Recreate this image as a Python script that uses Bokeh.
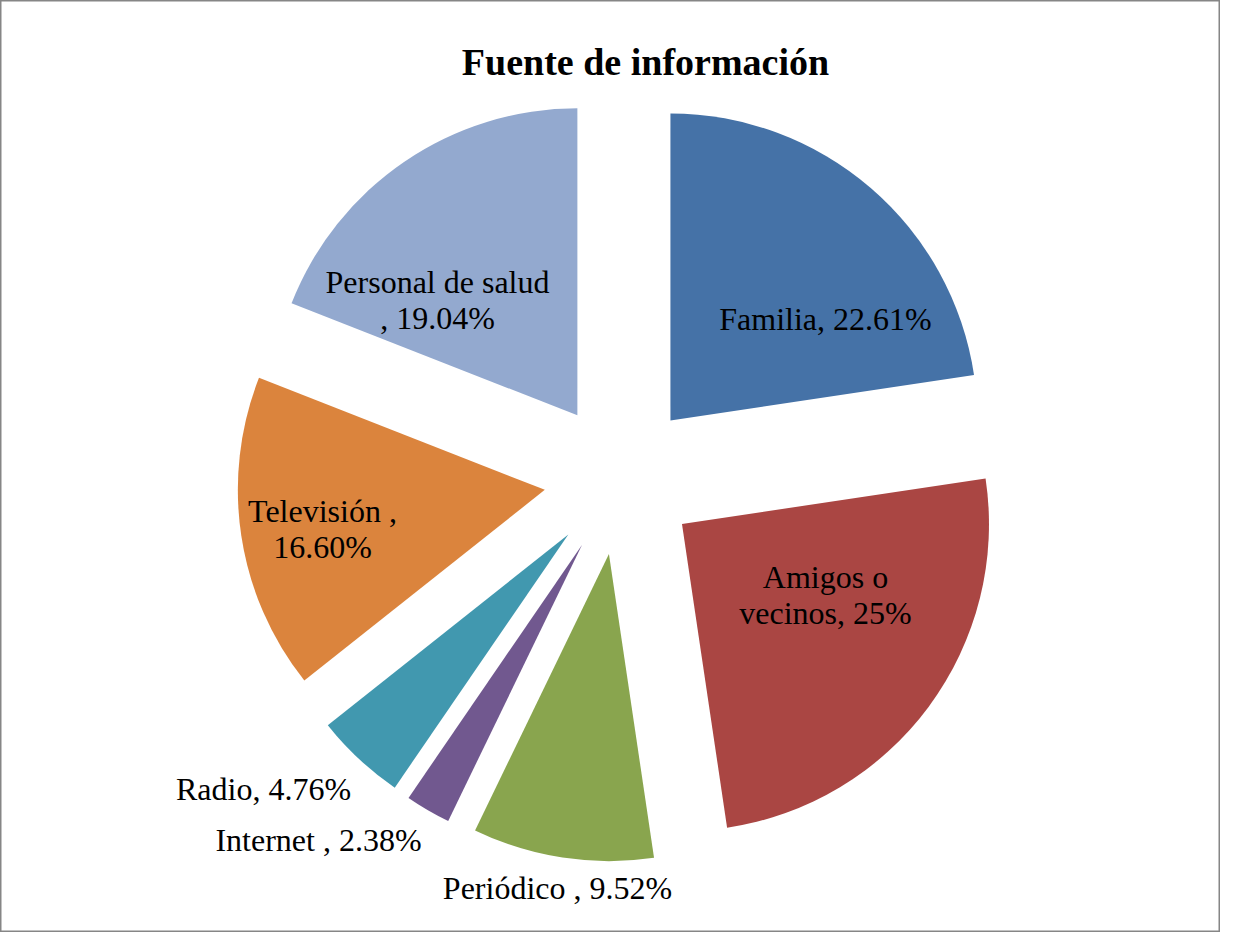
import numpy as np
from bokeh.plotting import figure
from bokeh.models import Range1d, Label, ColumnDataSource
from bokeh.embed import file_html
from bokeh.resources import INLINE
from bokeh.core.properties import value

# ---- data ----
categories = ["Familia", "Amigos o vecinos", "Periódico", "Internet", "Radio",
              "Televisión", "Personal de salud"]
percent = [22.61, 25.0, 9.52, 2.38, 4.76, 16.60, 19.04]
label_texts = ["Familia, 22.61%", "Amigos o\nvecinos, 25%", "Periódico , 9.52%",
               "Internet , 2.38%", "Radio, 4.76%", "Televisión ,\n16.60%",
               "Personal de salud\n, 19.04%"]
colors = ["#4572A7", "#AA4643", "#89A54E", "#71588F", "#4198AF", "#DB843D", "#93A9CF"]
title_text = "Fuente de información"

# ---- layout (image pixel coordinates, y measured upward from bottom 948) ----
W, H = 1220, 932
cx, cy = 620.0, 948 - 478.0
radius = 307.0
explode = 76.5
label_pos = [(825, 630), (825, 354), (557, 61), (318, 109), (263, 160), (322, 420), (437, 649)]

vals = np.array(percent, dtype=float)
frac = vals / vals.sum()
cum = np.concatenate([[0.0], np.cumsum(frac)[:-1]])
a_start = np.pi / 2 - cum * 2 * np.pi          # clockwise from 12 o'clock
a_end = a_start - frac * 2 * np.pi
mid = (a_start + a_end) / 2
xs = cx + explode * np.cos(mid)
ys = cy + explode * np.sin(mid)

src = ColumnDataSource(dict(x=xs, y=ys, start=a_end, end=a_start, color=colors, cat=categories))

p = figure(width=W, height=H, x_range=Range1d(0, W), y_range=Range1d(948 - H, 948),
           output_backend="svg", toolbar_location=None, title=None, min_border=0)
p.xaxis.visible = False
p.yaxis.visible = False
p.grid.visible = False
p.outline_line_color = "#868686"
p.outline_line_width = 2
p.background_fill_color = "white"
p.border_fill_color = "white"

p.wedge(x="x", y="y", radius=radius, start_angle="start", end_angle="end",
        direction="anticlock", fill_color="color", line_color=None, source=src)

lsrc = ColumnDataSource(dict(x=[q[0] for q in label_pos], y=[q[1] for q in label_pos],
                             t=label_texts))
p.text(x="x", y="y", text="t", source=lsrc, text_align="center", text_baseline="middle",
       text_font=value("Liberation Serif"), text_font_size="32px", text_color="black",
       text_line_height=1.0)

p.add_layout(Label(x=645, y=948 - 61, text=title_text, text_align="center",
                   text_baseline="middle", text_font="Liberation Serif",
                   text_font_style="bold", text_font_size="38px", text_color="black"))

open("out.html", "w").write(file_html(p, INLINE))
